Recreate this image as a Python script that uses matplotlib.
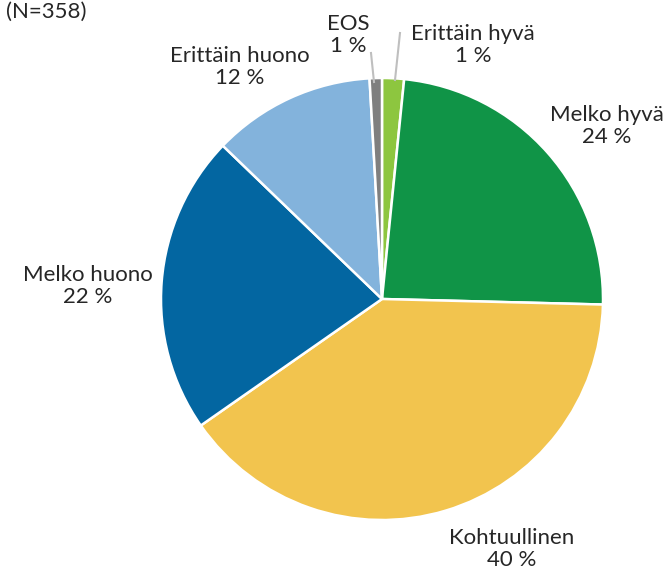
import matplotlib
matplotlib.use("Agg")
import matplotlib.pyplot as plt

# shares (%), clockwise from 12 o'clock
labels = ["Erittäin hyvä", "Melko hyvä", "Kohtuullinen", "Melko huono", "Erittäin huono", "EOS"]
values = [1.6, 23.8, 39.9, 21.9, 11.9, 0.9]
pct_text = ["1 %", "24 %", "40 %", "22 %", "12 %", "1 %"]
colors = ["#8DC63F", "#109447", "#F2C44E", "#0366A1", "#83B3DC", "#7F7F7F"]
title = "(N=358)"

W, H = 670, 574
cx, cy, r = 382, 299, 221


def to_data(px, py):
    return (px - cx) / r, (cy - py) / r


plt.rcParams["font.family"] = ["Lato", "DejaVu Sans"]
fig = plt.figure(figsize=(W / 100, H / 100), dpi=100)
ax = fig.add_axes([(cx - r) / W, (H - cy - r) / H, 2 * r / W, 2 * r / H])
ax.pie(values, colors=colors, startangle=90, counterclock=False, radius=1,
       wedgeprops=dict(edgecolor="white", linewidth=1.8))
ax.set_xlim(-1, 1)
ax.set_ylim(-1, 1)
ax.set_aspect("equal")
ax.axis("off")

# label block centres in pixels
label_pos = [(473, 45), (607, 126), (512, 549), (88, 286), (240, 67), (348, 35)]
for lab, pct, (px, py) in zip(labels, pct_text, label_pos):
    x, y = to_data(px, py)
    ax.text(x, y, lab + "\n" + pct, ha="center", va="center", fontsize=16,
            color="#262626", linespacing=1.15, clip_on=False)

# leader lines for the thin slices
for (x0, y0), (x1, y1) in [((395, 80), (400, 33)), ((374, 82), (371, 53))]:
    a, b = to_data(x0, y0)
    c, d = to_data(x1, y1)
    ax.plot([a, c], [b, d], color="#BFBFBF", lw=1.5, clip_on=False)

fig.text(6 / W, 1 - 18 / H, title, fontsize=16, color="#262626", va="baseline")

fig.savefig("out.png", dpi=100)
